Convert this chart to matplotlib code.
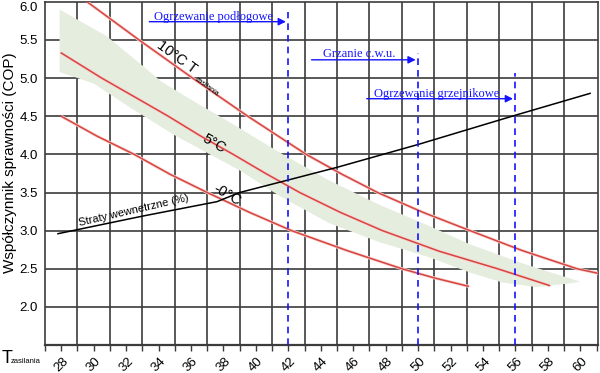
import matplotlib
matplotlib.use('Agg')
import matplotlib.pyplot as plt
import numpy as np

plt.rcParams['font.family'] = ['Liberation Sans', 'DejaVu Sans']

# krzywe COP dla roznych temperatur zrodla
t_10 = [29.6, 31.2, 32.8, 34.45, 36.1, 37.8, 39.5, 41.3, 43.1, 45.3, 47.5, 50.3, 53.2, 56.4, 59.8, 61.1]
cop_10 = [6.0, 5.75, 5.5, 5.25, 5.0, 4.75, 4.5, 4.25, 4.0, 3.74, 3.5, 3.24, 3.0, 2.74, 2.5, 2.44]

t_5 = [28.0, 30.5, 32.8, 34.6, 36.6, 38.6, 40.6, 42.7, 45.2, 47.8, 51.3, 54.9, 58.1]
cop_5 = [5.33, 5.0, 4.72, 4.5, 4.24, 4.0, 3.75, 3.5, 3.24, 3.0, 2.73, 2.5, 2.28]

t_0 = [28.0, 30.2, 32.5, 34.7, 37.0, 39.6, 42.2, 45.6, 49.0, 51.0, 53.1]
cop_0 = [4.50, 4.24, 4.0, 3.74, 3.5, 3.24, 3.0, 2.74, 2.5, 2.38, 2.27]

# straty wewnetrzne
straty_t = [27.8, 33.0, 37.6, 39.0, 42.1, 45.0, 50.0, 56.1, 60.6]
straty_cop = [2.96, 3.19, 3.38, 3.50, 3.67, 3.83, 4.13, 4.52, 4.80]

# zielony pas
band_up_t = [27.9, 30.8, 32.8, 34.2, 36.3, 38.4, 41.5, 44.5, 47.6, 50.7, 53.2, 56.3, 58.5, 60.0]
band_up = [5.90, 5.55, 5.20, 4.95, 4.68, 4.42, 4.02, 3.66, 3.34, 3.06, 2.82, 2.58, 2.43, 2.33]
band_lo_t = [27.9, 30.0, 32.2, 35.0, 37.0, 39.0, 41.5, 44.5, 47.6, 50.7, 53.2, 55.2, 57.3, 59.4]
band_lo = [5.08, 4.93, 4.62, 4.25, 4.02, 3.79, 3.45, 3.10, 2.85, 2.65, 2.45, 2.32, 2.26, 2.31]

# zakresy zastosowan
zakresy = ['Ogrzewanie podłogowe', 'Grzanie c.w.u.', 'Ogrzewanie grzejnikowe']
zakres_t = [42, 50, 56]
zakres_top = [5.87, 5.33, 5.07]
arrow_start = [33.43, 43.43, 46.83]
arrow_y = [5.74, 5.24, 4.73]
text_x = [33.74, 44.11, 47.26]
text_y = [5.765, 5.28, 4.757]

xticks_lab = list(range(28, 61, 2))
yticks_lab = [2.0, 2.5, 3.0, 3.5, 4.0, 4.5, 5.0, 5.5, 6.0]

fig = plt.figure(figsize=(6, 3.73), dpi=100)
ax = fig.add_axes([0.075, 0.075, 0.922, 0.920])
ax.set_xlim(27, 61.1)
ax.set_ylim(1.5, 6.0)

grid_c = '#3c3c3c'
for x in range(29, 61, 2):
    ax.axvline(x, color=grid_c, lw=1.2, zorder=1)
for y in yticks_lab[:-1]:
    ax.axhline(y, color=grid_c, lw=1.2, zorder=1)

ax.fill(band_up_t + band_lo_t[::-1], band_up + band_lo[::-1],
        color='#e5eddf', lw=0, zorder=2)

red = '#d8453f'
for tt, cc in [(t_10, cop_10), (t_5, cop_5), (t_0, cop_0)]:
    ax.plot(tt, cc, color='#f6d2d2', lw=2.2, zorder=3, solid_capstyle='butt')
    ax.plot(tt, cc, color=red, lw=1.1, zorder=4)

ax.plot(straty_t, straty_cop, color='black', lw=1.1, zorder=5)

blue = '#1414ff'
for i in range(len(zakresy)):
    ax.plot([zakres_t[i], zakres_t[i]], [1.5, zakres_top[i]], color=blue, lw=1.2,
            ls=(0, (4, 3)), zorder=6)
    ax.annotate('', xy=(zakres_t[i] - 0.15, arrow_y[i]), xytext=(arrow_start[i], arrow_y[i]),
                arrowprops=dict(arrowstyle='-|>', color=blue, lw=1.0,
                                mutation_scale=11, shrinkA=0, shrinkB=0), zorder=6)
    ax.text(text_x[i], text_y[i], zakresy[i], color=blue, fontsize=9,
            family='Liberation Serif', va='baseline', ha='left', zorder=7)

ax.text(35.1, 5.28, '10°C T', fontsize=10.5, rotation=-36, ha='center', va='center', zorder=7)
ax.text(36.95, 4.89, 'zasilania', fontsize=5, rotation=-36, ha='center', va='center', zorder=7)
ax.text(37.4, 4.14, '5°C', fontsize=10.5, rotation=-30, ha='center', va='center', zorder=7)
ax.text(38.25, 3.47, '-0°C', fontsize=10.5, rotation=-30, ha='center', va='center', zorder=7)
ax.text(32.45, 3.27, 'Straty wewnetrzne (%)', fontsize=8, rotation=13,
        ha='center', va='center', zorder=7)

ax.set_xticks(range(27, 62))
ax.set_xticklabels([str(v) if v in xticks_lab else '' for v in range(27, 62)],
                   rotation=45, fontsize=9.5)
ax.set_yticks(yticks_lab)
ax.set_yticklabels(['%.1f' % v for v in yticks_lab], fontsize=9.5)
ax.tick_params(axis='x', length=4, width=1, color=grid_c, pad=3)
ax.tick_params(axis='y', length=0, pad=5)
for lab in ax.get_xticklabels():
    lab.set_ha('center')
    lab.set_va('top')
ax.get_yticklabels()[-1].set_va('top')

for s in ax.spines.values():
    s.set_color(grid_c)
    s.set_linewidth(1.2)
ax.spines['bottom'].set_linewidth(1.6)

ax.set_ylabel('Współczynnik sprawności (COP)', fontsize=11)
ax.yaxis.set_label_coords(-0.050, 0.53)

fig.text(0.002, 0.040, 'T', fontsize=13, ha='left', va='center')
fig.text(0.018, 0.030, 'zasilania', fontsize=5.5, ha='left', va='center')

fig.savefig('out.png', dpi=100)
